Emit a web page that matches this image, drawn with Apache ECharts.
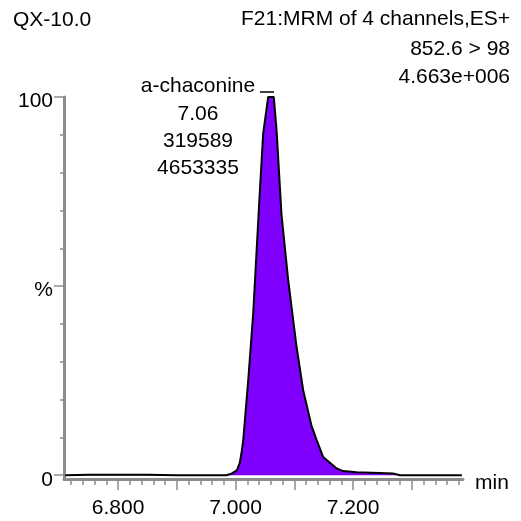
<!DOCTYPE html>
<html>
<head>
<meta charset="utf-8">
<script src="https://cdn.jsdelivr.net/npm/echarts@6/dist/echarts.min.js"></script>
<style>html,body{margin:0;padding:0;background:#fff}#c{width:521px;height:521px}</style>
</head>
<body>
<div id="c"></div>
<script>
// Chromatogram trace: retention time (min) and relative intensity (%)
const times = [6.710, 6.750, 6.800, 6.850, 6.900, 6.950, 6.984, 6.993, 7.002, 7.007, 7.010, 7.013, 7.0215, 7.030, 7.0414, 7.047, 7.0555, 7.065, 7.0697, 7.078, 7.0895, 7.1038, 7.115, 7.129, 7.138, 7.149, 7.155, 7.172, 7.183, 7.206, 7.245, 7.268, 7.280, 7.330, 7.385];
const intensity = [0, 0.1, 0.1, 0.1, 0, 0, 0, 0.4, 1.3, 3.2, 5.8, 9.3, 25.1, 42.8, 75.4, 90.4, 100, 100, 91.3, 69.2, 51.6, 33.9, 22.5, 13.2, 9.3, 4.8, 4.0, 1.8, 1.1, 0.8, 0.6, 0.45, 0, 0, 0];

const xMinorTicks = [6.72,6.74,6.76,6.78,6.80,6.82,6.84,6.86,6.88,6.90,6.92,6.94,6.96,6.98,7.00,7.02,7.04,7.06,7.08,7.10,7.12,7.14,7.16,7.18,7.20,7.22,7.24,7.26,7.28,7.30,7.32,7.34,7.36,7.38];
const xMajorTicks = [6.8, 6.9, 7.0, 7.1, 7.2, 7.3];
const xLabelValues = [6.8, 7.0, 7.2];
const xLabelTexts = ['6.800', '7.000', '7.200'];
const yMajorTicks = [0, 50, 100];
const yLabelTexts = ['0', '%', '100'];
const yMinorTicks = [10, 20, 30, 40, 60, 70, 80, 90];

const headerLeft = 'QX-10.0';
const headerRight = ['F21:MRM of 4 channels,ES+', '852.6 > 98', '4.663e+006'];
const peakLabel = ['a-chaconine', '7.06', '319589', '4653335'];

const FONT = '"Liberation Sans", Arial, sans-serif';
const FS = 21;
const AX = '#8c8c8c';

const chart = echarts.init(document.getElementById('c'));
const data = times.map((t, i) => [t, intensity[i]]);

const yLab = {};
yMajorTicks.forEach((v, i) => { yLab[v] = yLabelTexts[i]; });
const xLab = {};
xLabelValues.forEach((v, i) => { xLab[v.toFixed(1)] = xLabelTexts[i]; });

const txt = (text, x, y, align) => ({
  type: 'text', x: x, y: y,
  style: { text: text, font: FS + 'px ' + FONT, fill: '#000', align: align, verticalAlign: 'middle' }
});

chart.setOption({
  animation: false,
  backgroundColor: '#fff',
  grid: { left: 64, right: 58, top: 97, bottom: 42 },
  xAxis: [{
    type: 'value', min: 6.708, max: 7.387, position: 'bottom',
    axisLine: { show: true, onZero: false, lineStyle: { color: AX, width: 3 } },
    axisTick: { show: true, customValues: xMinorTicks, length: 6, lineStyle: { color: AX, width: 1.5 } },
    axisLabel: { show: false },
    splitLine: { show: false },
    name: 'min', nameLocation: 'end', nameGap: 12,
    nameTextStyle: { fontFamily: FONT, fontSize: FS, color: '#000', verticalAlign: 'top', lineHeight: 8 }
  }, {
    type: 'value', min: 6.708, max: 7.387, position: 'bottom',
    axisLine: { show: false, onZero: false },
    axisTick: { show: true, customValues: xMajorTicks, length: 11, lineStyle: { color: AX, width: 1.5 } },
    axisLabel: { show: true, customValues: xLabelValues, margin: 19, fontFamily: FONT, fontSize: FS, color: '#000',
      formatter: v => xLab[Number(v).toFixed(1)] || '' },
    splitLine: { show: false }
  }],
  yAxis: [{
    type: 'value', min: -1, max: 100, position: 'left',
    axisLine: { show: true, onZero: false, lineStyle: { color: AX, width: 3 } },
    axisTick: { show: true, customValues: yMajorTicks, length: 10, lineStyle: { color: AX, width: 1.5 } },
    axisLabel: { show: true, customValues: yMajorTicks, margin: 11, fontFamily: FONT, fontSize: FS, color: '#000',
      verticalAlign: 'top', lineHeight: 9,
      formatter: v => yLab[Math.round(v)] || '' },
    splitLine: { show: false }
  }, {
    type: 'value', min: -1, max: 100, position: 'left',
    axisLine: { show: false, onZero: false },
    axisTick: { show: true, customValues: yMinorTicks, length: 4, lineStyle: { color: AX, width: 1.5 } },
    axisLabel: { show: false },
    splitLine: { show: false }
  }],
  series: [{
    type: 'line', xAxisIndex: 0, yAxisIndex: 0,
    data: data, showSymbol: false, symbol: 'none',
    lineStyle: { color: '#000', width: 2 },
    areaStyle: { color: '#7f00ff', opacity: 1, origin: 0 },
    z: 3
  }],
  graphic: [
    txt(headerLeft, 13, 20, 'left'),
    txt(headerRight[0], 510, 19, 'right'),
    txt(headerRight[1], 510, 49, 'right'),
    txt(headerRight[2], 510, 77, 'right'),
    txt(peakLabel[0], 198, 86, 'center'),
    txt(peakLabel[1], 198, 114, 'center'),
    txt(peakLabel[2], 198, 141, 'center'),
    txt(peakLabel[3], 198, 168, 'center'),
    { type: 'line', shape: { x1: 260, y1: 92, x2: 274, y2: 92 }, style: { stroke: '#000', lineWidth: 1.5 } }
  ]
});
</script>
</body>
</html>
